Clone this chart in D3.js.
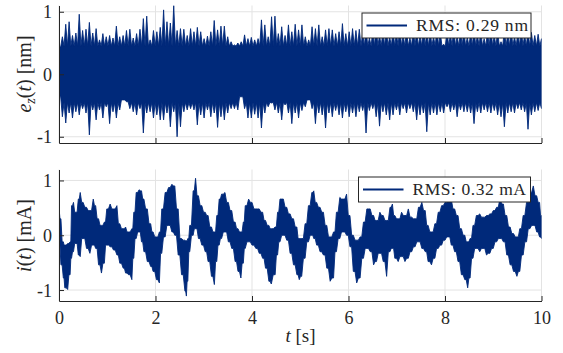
<!DOCTYPE html>
<html>
<head>
<meta charset="utf-8">
<script src="https://cdn.jsdelivr.net/npm/d3@7"></script>
<style>
  body { margin: 0; background: #fff; }
  svg { display: block; }
  text { font-family: "Liberation Serif", "DejaVu Serif", serif; fill: #262626; }
</style>
</head>
<body>
<div id="chart"></div>
<script>
const width = 563;
const height = 353;
const lineColor = "#00297a";
const axisColor = "#262626";
const gridColor = "#e3e3e3";
const serifFont = '"Liberation Serif", "DejaVu Serif", serif';

// x axis (time, s)
const xDomain = [0, 10];
const xTicks = [0, 2, 4, 6, 8, 10];

// top panel: e_z(t) [nm], max / min of the trace in each time bin
const ezDomain = [-1.1, 1.1];
const ezTicks = [-1, 0, 1];
const ezHi = [
  0.44, 0.60, 0.80, 0.84, 0.62, 0.66, 0.96, 0.70, 0.72, 0.83,
  0.66, 0.73, 0.55, 0.65, 0.60, 0.62, 0.58, 0.77, 0.60, 0.62,
  0.70, 0.72, 0.58, 0.65, 0.72, 0.89, 0.93, 0.55, 0.70, 0.68,
  0.75, 1.03, 0.84, 0.82, 1.10, 0.70, 0.73, 0.72, 0.62, 0.73,
  0.68, 0.75, 0.68, 0.57, 0.61, 0.68, 0.86, 0.71, 0.77, 0.77,
  0.60, 0.52, 0.47, 0.50, 0.52, 0.63, 0.57, 0.59, 0.55, 0.57,
  0.87, 0.79, 0.60, 0.92, 0.93, 0.65, 0.76, 0.62, 0.79, 0.68,
  0.80, 0.71, 0.79, 0.60, 0.55, 0.76, 0.73, 0.79, 0.60, 0.71,
  0.73, 0.71, 0.65, 0.68, 0.81, 0.65, 0.68, 0.73, 0.70, 0.72,
  0.66, 0.74, 0.58, 0.70, 0.78, 0.62, 0.69, 0.75, 0.60, 0.71,
  0.66, 0.77, 0.63, 0.70, 0.58, 0.74, 0.68, 0.62, 0.79, 0.66,
  0.71, 0.60, 0.73, 0.67, 0.48, 0.70, 0.64, 0.76, 0.61, 0.69,
  0.72, 0.59, 0.66, 0.74, 0.63, 0.70, 0.57, 0.68, 0.75, 0.62,
  0.69, 0.52, 0.71, 0.65, 0.73, 0.60, 0.68, 0.74, 0.63, 0.70,
  0.67, 0.62, 0.64, 0.57
];
const ezLo = [
  -0.36, -0.68, -0.78, -0.62, -0.70, -0.60, -0.65, -0.55, -0.62, -0.97,
  -0.57, -0.73, -0.57, -0.70, -0.52, -0.79, -0.60, -0.70, -0.57, -0.41,
  -0.44, -0.55, -0.60, -0.65, -0.55, -0.94, -0.62, -0.60, -0.70, -0.65,
  -0.73, -0.73, -0.62, -0.84, -0.60, -1.00, -0.84, -0.60, -0.57, -0.55,
  -0.57, -0.81, -0.65, -0.70, -0.57, -0.68, -0.62, -0.85, -0.68, -0.73,
  -0.62, -0.55, -0.55, -0.57, -0.36, -0.55, -0.70, -0.70, -0.64, -0.70,
  -0.86, -0.62, -0.52, -0.46, -0.57, -0.62, -0.73, -0.49, -0.62, -0.79,
  -0.62, -0.70, -0.58, -0.52, -0.41, -0.55, -0.79, -0.62, -0.65, -0.86,
  -0.62, -0.68, -0.58, -0.65, -0.70, -0.60, -0.68, -0.62, -0.68, -0.60,
  -0.58, -0.94, -0.58, -0.55, -0.68, -0.83, -0.60, -0.65, -0.73, -0.65,
  -0.57, -0.65, -0.55, -0.62, -0.55, -0.60, -0.73, -0.65, -0.62, -0.92,
  -0.65, -0.62, -0.65, -0.60, -0.62, -0.52, -0.60, -0.57, -0.68, -0.57,
  -0.60, -0.60, -0.62, -0.79, -0.60, -0.62, -0.57, -0.60, -0.62, -0.58,
  -0.65, -0.68, -0.84, -0.62, -0.60, -0.62, -0.55, -0.57, -0.60, -0.88,
  -0.65, -0.60, -0.58, -0.55
];
// level up to which the e_z trace is a solid band [nm]
const ezCore = [-0.45, 0.45];

// bottom panel: i(t) [mA], readings of the upper / lower edge of the trace
const iDomain = [-1.2, 1.2];
const iTicks = [-1, 0, 1];
const iTime = [
  0.00, 0.04, 0.09, 0.12, 0.18, 0.23, 0.26, 0.30, 0.35, 0.40,
  0.44, 0.50, 0.57, 0.64, 0.71, 0.76, 0.82, 0.88, 0.94, 0.99,
  1.06, 1.13, 1.20, 1.26, 1.33, 1.38, 1.44, 1.51, 1.55, 1.60,
  1.66, 1.71, 1.76, 1.83, 1.90, 1.95, 2.02, 2.08, 2.13, 2.20,
  2.27, 2.34, 2.40, 2.47, 2.54, 2.61, 2.64, 2.67, 2.71, 2.78,
  2.83, 2.89, 2.96, 3.03, 3.09, 3.16, 3.22, 3.27, 3.32, 3.37,
  3.44, 3.51, 3.58, 3.65, 3.71, 3.77, 3.82, 3.86, 3.93, 4.00,
  4.08, 4.15, 4.22, 4.28, 4.35, 4.40, 4.48, 4.53, 4.58, 4.65,
  4.72, 4.79, 4.86, 4.93, 4.98, 5.03, 5.10, 5.17, 5.24, 5.28,
  5.34, 5.41, 5.48, 5.55, 5.62, 5.69, 5.75, 5.82, 5.89, 5.96,
  6.03, 6.10, 6.17, 6.24, 6.31, 6.38, 6.45, 6.52, 6.58, 6.65,
  6.72, 6.79, 6.86, 6.91, 6.96, 7.03, 7.10, 7.17, 7.24, 7.31,
  7.38, 7.45, 7.52, 7.59, 7.65, 7.72, 7.79, 7.86, 7.93, 8.00,
  8.07, 8.13, 8.20, 8.27, 8.34, 8.41, 8.47, 8.52, 8.58, 8.65,
  8.72, 8.79, 8.86, 8.93, 9.00, 9.07, 9.14, 9.21, 9.28, 9.35,
  9.42, 9.49, 9.55, 9.62, 9.69, 9.76, 9.83, 9.90, 9.96, 10.00
];
const iHi = [
  0.51, 0.30, -0.12, -0.18, -0.15, -0.12, 0.54, 0.60, 0.42, 0.66,
  0.78, 0.60, 0.51, 0.45, 0.66, 0.54, 0.30, 0.18, 0.24, 0.48,
  0.57, 0.48, 0.54, 0.21, 0.12, 0.15, 0.06, 0.12, 0.42, 0.78,
  0.83, 0.81, 0.66, 0.48, 0.21, 0.06, -0.03, 0.06, 0.48, 0.78,
  0.87, 0.93, 0.90, 0.48, -0.06, -0.09, -0.10, -0.06, 0.18, 0.81,
  1.04, 0.72, 0.54, 0.42, 0.36, 0.15, 0.06, 0.36, 0.66, 0.75,
  0.78, 0.60, 0.45, 0.24, 0.12, 0.06, 0.24, 0.54, 0.66, 0.60,
  0.48, 0.48, 0.42, 0.27, 0.18, 0.12, 0.15, 0.42, 0.66, 0.66,
  0.51, 0.39, 0.30, 0.15, -0.06, -0.06, 0.21, 0.54, 0.78, 0.81,
  0.60, 0.51, 0.42, 0.18, -0.03, 0.06, 0.42, 0.69, 0.66, 0.75,
  0.36, 0.00, -0.09, -0.03, 0.24, 0.48, 0.48, 0.36, 0.27, 0.42,
  0.36, 0.27, 0.51, 0.57, 0.36, 0.30, 0.42, 0.36, 0.48, 0.33,
  0.30, 0.51, 0.60, 0.45, 0.18, 0.06, 0.21, 0.42, 0.54, 0.60,
  0.70, 0.66, 0.48, 0.36, 0.12, 0.00, -0.12, -0.06, 0.18, 0.36,
  0.39, 0.33, 0.36, 0.39, 0.45, 0.51, 0.68, 0.57, 0.36, 0.15,
  0.03, -0.03, 0.12, 0.36, 0.60, 0.78, 0.90, 0.72, 0.60, 0.36
];
const iLo = [
  -0.18, -0.54, -0.78, -0.96, -0.99, -0.72, -0.42, -0.30, -0.15, -0.36,
  -0.39, -0.06, -0.24, -0.33, -0.18, -0.24, -0.54, -0.69, -0.51, -0.18,
  -0.21, -0.27, -0.36, -0.51, -0.60, -0.69, -0.72, -0.81, -0.42, -0.06,
  0.06, -0.12, -0.30, -0.48, -0.57, -0.66, -0.81, -0.87, -0.33, -0.03,
  0.18, 0.06, 0.00, -0.36, -0.72, -1.02, -1.11, -0.84, -0.30, 0.00,
  0.12, -0.06, -0.18, -0.30, -0.48, -0.75, -0.90, -0.48, -0.18, -0.06,
  0.06, -0.12, -0.24, -0.48, -0.66, -0.78, -0.51, -0.24, -0.12, -0.18,
  -0.24, -0.33, -0.42, -0.60, -0.84, -0.89, -0.72, -0.36, -0.12, 0.00,
  -0.09, -0.33, -0.54, -0.72, -0.81, -0.75, -0.42, -0.12, 0.00, -0.06,
  -0.18, -0.30, -0.36, -0.60, -0.84, -0.78, -0.30, -0.06, 0.06, 0.00,
  -0.21, -0.66, -0.87, -0.78, -0.42, -0.24, -0.30, -0.54, -0.48, -0.33,
  -0.48, -0.75, -0.30, -0.24, -0.42, -0.48, -0.39, -0.48, -0.42, -0.30,
  -0.21, -0.12, -0.24, -0.30, -0.48, -0.54, -0.42, -0.24, -0.18, -0.09,
  -0.03, -0.18, -0.30, -0.48, -0.72, -0.81, -0.96, -0.78, -0.42, -0.24,
  -0.30, -0.24, -0.36, -0.33, -0.24, -0.12, -0.06, -0.12, -0.36, -0.54,
  -0.66, -0.75, -0.66, -0.36, -0.12, 0.12, 0.18, 0.06, -0.03, -0.06
];

const ezLegend = "RMS: 0.29 nm";
const iLegend = "RMS: 0.32 mA";

// plot box
const plotLeft = 59;
const plotRight = 541.5;

// band points: the extremes of bin k at its time, and between two bins the
// trace falls back to the solid core (or to the lower of the two extremes)
function bandData(times, hi, lo, core) {
  const n = Math.min(times.length, hi.length, lo.length);
  const pts = [];
  for (let k = 0; k < n; k++) {
    pts.push({ t: times[k], hi: hi[k], lo: lo[k] });
    if (k < n - 1) {
      const tm = (times[k] + times[k + 1]) / 2;
      const h = core ? Math.min(core[1], hi[k], hi[k + 1]) : Math.min(hi[k], hi[k + 1]);
      const l = core ? Math.max(core[0], lo[k], lo[k + 1]) : Math.max(lo[k], lo[k + 1]);
      pts.push({ t: tm, hi: h, lo: l });
    }
  }
  return pts;
}

function drawPanel(svg, opts) {
  const x = d3.scaleLinear().domain(xDomain).range([plotLeft, plotRight]);
  const y = d3.scaleLinear().domain(opts.yDomain).range([opts.bottom, opts.top]);
  const g = svg.append("g");

  // grid
  g.append("g")
    .selectAll("line")
    .data(xTicks)
    .enter()
    .append("line")
    .attr("x1", (d) => x(d))
    .attr("x2", (d) => x(d))
    .attr("y1", opts.top)
    .attr("y2", opts.bottom)
    .attr("stroke", gridColor)
    .attr("stroke-width", 1);
  g.append("g")
    .selectAll("line")
    .data(opts.yTicks)
    .enter()
    .append("line")
    .attr("x1", plotLeft)
    .attr("x2", plotRight)
    .attr("y1", (d) => y(d))
    .attr("y2", (d) => y(d))
    .attr("stroke", gridColor)
    .attr("stroke-width", 1);

  // clip the trace to the axes box
  svg.append("defs")
    .append("clipPath")
    .attr("id", opts.id + "-clip")
    .append("rect")
    .attr("x", plotLeft)
    .attr("y", opts.top)
    .attr("width", plotRight - plotLeft)
    .attr("height", opts.bottom - opts.top);

  // dense trace drawn as the band between its max and min
  const band = d3.area()
    .x((d) => x(d.t))
    .y1((d) => y(d.hi))
    .y0((d) => y(d.lo));

  g.append("path")
    .datum(opts.band)
    .attr("clip-path", `url(#${opts.id}-clip)`)
    .attr("fill", lineColor)
    .attr("stroke", lineColor)
    .attr("stroke-width", 0.9)
    .attr("stroke-linejoin", "round")
    .attr("d", band);

  // axes, ticks pointing inward
  const yAxis = d3.axisLeft(y).tickValues(opts.yTicks).tickSize(-5).tickSizeOuter(0)
    .tickPadding(7).tickFormat((d) => (d < 0 ? "-" + Math.abs(d) : String(d)));
  const xAxis = d3.axisBottom(x).tickValues(xTicks).tickSize(-5).tickSizeOuter(0)
    .tickPadding(10);
  if (!opts.xLabels) xAxis.tickFormat("");

  const ya = g.append("g").attr("transform", `translate(${plotLeft},0)`).call(yAxis);
  const xa = g.append("g").attr("transform", `translate(0,${opts.bottom})`).call(xAxis);
  [ya, xa].forEach((a) => {
    a.select(".domain").attr("stroke", axisColor).attr("stroke-width", 1);
    a.selectAll(".tick line").attr("stroke", axisColor).attr("stroke-width", 1);
    a.selectAll("text")
      .attr("fill", axisColor)
      .style("font-family", serifFont)
      .style("font-size", "18px");
  });
  ya.selectAll("text").attr("dy", "0.34em");

  // legend
  const lg = g.append("g");
  lg.append("rect")
    .attr("x", opts.legend.x)
    .attr("y", opts.legend.y)
    .attr("width", opts.legend.w)
    .attr("height", 25)
    .attr("fill", "#fff")
    .attr("stroke", axisColor)
    .attr("stroke-width", 1);
  lg.append("line")
    .attr("x1", opts.legend.x + 4.5)
    .attr("x2", opts.legend.x + 45)
    .attr("y1", opts.legend.y + 12.5)
    .attr("y2", opts.legend.y + 12.5)
    .attr("stroke", lineColor)
    .attr("stroke-width", 2);
  lg.append("text")
    .attr("x", opts.legend.x + 54)
    .attr("y", opts.legend.y + 17.5)
    .attr("textLength", opts.legend.textW)
    .attr("lengthAdjust", "spacing")
    .style("font-size", "17.5px")
    .text(opts.legend.text);

  return { x, y };
}

// ----
// main
// ----
const svg = d3.select("#chart")
  .append("svg")
  .attr("width", width)
  .attr("height", height)
  .attr("viewBox", `0 0 ${width} ${height}`);

svg.append("rect").attr("width", width).attr("height", height).attr("fill", "#fff");

const ezTime = d3.range(ezHi.length).map((k) => (xDomain[1] * k) / (ezHi.length - 1));

drawPanel(svg, {
  id: "ez",
  top: 5.5,
  bottom: 143,
  yDomain: ezDomain,
  yTicks: ezTicks,
  band: bandData(ezTime, ezHi, ezLo, ezCore),
  xLabels: false,
  legend: { x: 362, y: 13, w: 169, text: ezLegend, textW: 112 }
});

drawPanel(svg, {
  id: "i",
  top: 169.5,
  bottom: 301,
  yDomain: iDomain,
  yTicks: iTicks,
  band: bandData(iTime, iHi, iLo, null),
  xLabels: true,
  legend: { x: 358.5, y: 177, w: 172, text: iLegend, textW: 113.5 }
});

// axis labels
const ezLabel = svg.append("text")
  .attr("transform", "translate(31,74) rotate(-90)")
  .attr("text-anchor", "middle")
  .style("font-size", "20px");
ezLabel.append("tspan").style("font-style", "italic").text("e");
ezLabel.append("tspan").style("font-style", "italic").style("font-size", "14px").attr("dy", 4).text("z");
ezLabel.append("tspan").attr("dy", -4).text("(");
ezLabel.append("tspan").style("font-style", "italic").text("t");
ezLabel.append("tspan").text(") [nm]");

const iLabel = svg.append("text")
  .attr("transform", "translate(31,235.5) rotate(-90)")
  .attr("text-anchor", "middle")
  .style("font-size", "20px");
iLabel.append("tspan").style("font-style", "italic").text("i");
iLabel.append("tspan").text("(");
iLabel.append("tspan").style("font-style", "italic").text("t");
iLabel.append("tspan").text(") [mA]");

const tLabel = svg.append("text")
  .attr("x", 300.5)
  .attr("y", 342)
  .attr("text-anchor", "middle")
  .style("font-size", "19px");
tLabel.append("tspan").style("font-style", "italic").text("t");
tLabel.append("tspan").text(" [s]");
</script>
</body>
</html>
